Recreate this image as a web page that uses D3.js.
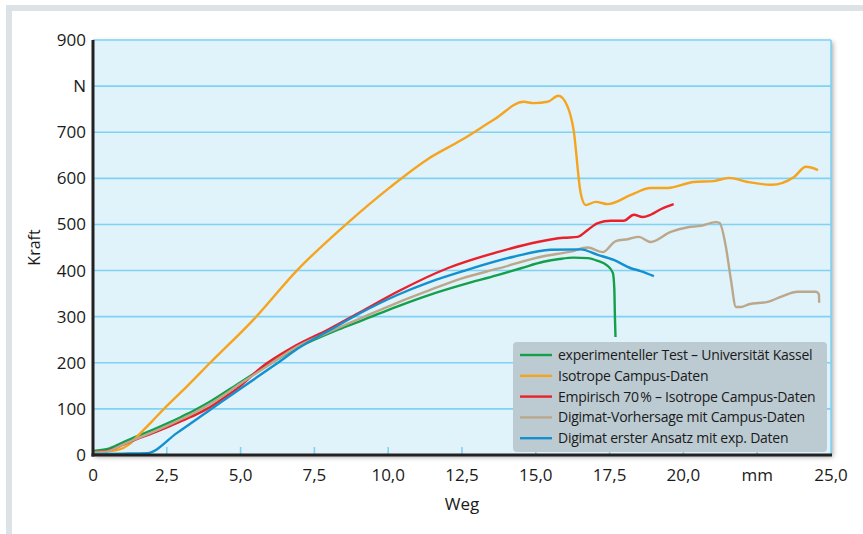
<!DOCTYPE html>
<html>
<head>
<meta charset="utf-8">
<script src="https://cdn.jsdelivr.net/npm/d3@7"></script>
<style>
  body { margin: 0; background: #fff; }
  svg text { font-family: "Open Sans", sans-serif; fill: #1a1a1a; }
</style>
</head>
<body>
<script>
// Weg in mm, Kraft in N
var seriesNames = [
    'experimenteller Test \u2013 Universit\u00e4t Kassel',
    'Isotrope Campus-Daten',
    'Empirisch 70\u202f% \u2013 Isotrope Campus-Daten',
    'Digimat-Vorhersage mit Campus-Daten',
    'Digimat erster Ansatz mit exp. Daten'
];
var seriesColors = ['#12a04b', '#f6a41d', '#e8212b', '#bba88c', '#1390cf'];

var experimentell = [[0, 9], [0.5, 13], [1.0, 27], [1.5, 41], [2.0, 54], [2.5, 68], [3.0, 83], [3.5, 99],
    [4.0, 117], [5.0, 158], [6.0, 198], [6.78, 228], [7.5, 250], [8.3, 272], [9.16, 293], [10.3, 322],
    [11.43, 348], [12.5, 369], [13.7, 390], [14.5, 405], [15.26, 419], [15.8, 425],
    [16.28, 428], [16.76, 427], [17.1, 421], [17.4, 412], [17.61, 395], [17.66, 360], [17.68, 300], [17.7, 256]];

var isotrop = [[0, 6], [0.5, 8], [0.9, 12], [1.2, 22], [1.6, 47], [2.0, 73], [2.37, 98], [3.2, 150],
    [3.97, 200], [5.43, 293], [6.92, 401], [8.62, 503], [10.07, 581], [11.3, 640], [12.48, 683], [13.6, 728],
    [14.59, 766], [14.93, 763], [15.4, 766], [15.77, 779], [16.08, 755], [16.28, 705], [16.52, 568],
    [16.69, 542], [17.03, 549], [17.44, 544], [18.22, 564], [18.89, 579], [19.47, 579], [20.35, 592],
    [21.03, 594], [21.54, 601], [22.18, 592], [22.97, 586], [23.75, 603], [24.15, 625], [24.56, 618]];

var empirisch = [[0, 6], [0.5, 9], [1.0, 22], [1.5, 35], [2.0, 47], [2.5, 60], [3.0, 74], [3.5, 88],
    [3.86, 100], [4.5, 127], [5.0, 150], [5.66, 188], [6.78, 234], [8, 273], [9.06, 310], [10.31, 354],
    [12.01, 405], [13.7, 440], [15.06, 462], [15.94, 471], [16.42, 473], [16.76, 488], [17.1, 503],
    [17.54, 508], [17.98, 508], [18.32, 521], [18.62, 516], [18.89, 521], [19.23, 533], [19.67, 544]];

var digimatCampus = [[0, 5], [0.5, 8], [1.0, 22], [1.5, 36], [2.0, 49], [2.5, 63], [3.0, 78], [3.5, 94],
    [4.0, 112], [5.0, 155], [6.0, 197], [6.78, 230], [8, 267], [9.16, 299], [10.3, 330], [11.43, 358],
    [12.5, 383], [13.7, 404], [15.26, 431], [16.18, 441], [16.76, 450],
    [17.27, 440], [17.71, 464], [18.11, 468], [18.49, 473], [18.89, 462], [19.57, 484], [20.15, 494],
    [20.59, 497], [21.1, 505], [21.23, 503], [21.44, 451], [21.61, 380], [21.78, 321], [21.95, 321],
    [22.22, 327], [22.86, 332], [23.3, 343], [23.88, 354], [24.49, 354], [24.59, 349], [24.6, 330]];

var digimatExp = [[0, 2], [1, 3], [1.83, 4], [2.85, 48], [3.97, 98], [5.09, 148], [6.24, 199], [7.02, 234],
    [8, 270], [9.06, 308], [10.31, 347], [11.4, 375], [12.55, 399], [14.25, 430], [15.5, 445], [16.52, 446],
    [17.1, 434], [17.64, 423], [18.22, 405], [18.55, 399], [19.0, 388]];

var allSeries = [experimentell, isotrop, empirisch, digimatCampus, digimatExp];

var xTickValues = [0, 2.5, 5, 7.5, 10, 12.5, 15, 17.5, 20, 22.5, 25];
var xTickLabels = ['0', '2,5', '5,0', '7,5', '10,0', '12,5', '15,0', '17,5', '20,0', 'mm', '25,0'];
var yTickValues = [0, 100, 200, 300, 400, 500, 600, 700, 800, 900];
var yTickLabels = ['0', '100', '200', '300', '400', '500', '600', '700', 'N', '900'];

var width = 863, height = 534;
var plotLeft = 93, plotRight = 831, plotTop = 40, plotBottom = 455;

var svg = d3.select('body').append('svg')
    .attr('width', width)
    .attr('height', height);

var defs = svg.append('defs');
var shadow = defs.append('filter').attr('id', 'shadow')
    .attr('x', '-5%').attr('y', '-5%').attr('width', '110%').attr('height', '110%');
shadow.append('feDropShadow')
    .attr('dx', 2).attr('dy', 2).attr('stdDeviation', 2.5)
    .attr('flood-color', '#000').attr('flood-opacity', 0.35);

// outer frame
svg.append('rect')
    .attr('x', 9).attr('y', 8)
    .attr('width', width + 20).attr('height', height + 20)
    .attr('fill', 'none')
    .attr('stroke', '#dde2e7')
    .attr('stroke-width', 6);

var x = d3.scaleLinear().domain([0, 25]).range([plotLeft, plotRight]);
var y = d3.scaleLinear().domain([0, 900]).range([plotBottom, plotTop]);

// plot background
svg.append('rect')
    .attr('x', plotLeft).attr('y', plotTop)
    .attr('width', plotRight - plotLeft).attr('height', plotBottom - plotTop)
    .attr('fill', '#e0f2fa')
    .attr('filter', 'url(#shadow)');

// grid lines
svg.append('g')
    .selectAll('line')
    .data(yTickValues.slice(1))
    .enter().append('line')
    .attr('x1', plotLeft).attr('x2', plotRight)
    .attr('y1', function (d) { return y(d); })
    .attr('y2', function (d) { return y(d); })
    .attr('stroke', '#7fd2f3')
    .attr('stroke-width', 1.6);

// right border
svg.append('line')
    .attr('x1', plotRight).attr('x2', plotRight)
    .attr('y1', plotTop).attr('y2', plotBottom)
    .attr('stroke', '#7fd2f3')
    .attr('stroke-width', 1.6);

// small x ticks inside plot
svg.append('g')
    .selectAll('line')
    .data(xTickValues.slice(1, -1))
    .enter().append('line')
    .attr('x1', function (d) { return x(d); })
    .attr('x2', function (d) { return x(d); })
    .attr('y1', plotBottom).attr('y2', plotBottom - 8)
    .attr('stroke', '#7fd2f3')
    .attr('stroke-width', 1.6);

// curves
var line = d3.line()
    .x(function (d) { return x(d[0]); })
    .y(function (d) { return y(d[1]); })
    .curve(d3.curveMonotoneX);

svg.append('g')
    .selectAll('path')
    .data(allSeries)
    .enter().append('path')
    .attr('d', line)
    .attr('fill', 'none')
    .attr('stroke', function (d, i) { return seriesColors[i]; })
    .attr('stroke-width', 2.4)
    .attr('stroke-linejoin', 'round');

// axes lines
svg.append('line')
    .attr('x1', plotLeft).attr('x2', plotLeft)
    .attr('y1', plotTop).attr('y2', plotBottom + 1.5)
    .attr('stroke', '#222').attr('stroke-width', 3);
svg.append('line')
    .attr('x1', plotLeft - 1.5).attr('x2', plotRight + 1)
    .attr('y1', plotBottom).attr('y2', plotBottom)
    .attr('stroke', '#222').attr('stroke-width', 3);

// tick labels
svg.append('g')
    .selectAll('text')
    .data(yTickValues)
    .enter().append('text')
    .attr('x', plotLeft - 7)
    .attr('y', function (d) { return y(d); })
    .attr('dy', '0.35em')
    .attr('text-anchor', 'end')
    .style('font-size', '17px')
    .text(function (d, i) { return yTickLabels[i]; });

svg.append('g')
    .selectAll('text')
    .data(xTickValues)
    .enter().append('text')
    .attr('x', function (d) { return x(d); })
    .attr('y', plotBottom + 20)
    .attr('dy', '0.35em')
    .attr('text-anchor', 'middle')
    .style('font-size', '17px')
    .text(function (d, i) { return xTickLabels[i]; });

// axis titles
svg.append('text')
    .attr('x', x(12.5)).attr('y', 510)
    .attr('text-anchor', 'middle')
    .style('font-size', '17px')
    .text('Weg');
svg.append('text')
    .attr('transform', 'translate(40,' + y(450) + ') rotate(-90)')
    .attr('text-anchor', 'middle')
    .style('font-size', '16px')
    .text('Kraft');

// legend
var legend = svg.append('g');
legend.append('rect')
    .attr('x', 513).attr('y', 342)
    .attr('width', 314).attr('height', 110)
    .attr('rx', 4)
    .attr('fill', '#bccad2');

var rows = legend.selectAll('g.row')
    .data(seriesNames)
    .enter().append('g')
    .attr('class', 'row')
    .attr('transform', function (d, i) { return 'translate(0,' + (355 + i * 20.8) + ')'; });
rows.append('line')
    .attr('x1', 520).attr('x2', 552)
    .attr('stroke', function (d, i) { return seriesColors[i]; })
    .attr('stroke-width', 2.4);
rows.append('text')
    .attr('x', 558)
    .attr('dy', '0.35em')
    .style('font-size', '14px')
    .style('letter-spacing', '-0.25px')
    .text(function (d) { return d; });
</script>
</body>
</html>
